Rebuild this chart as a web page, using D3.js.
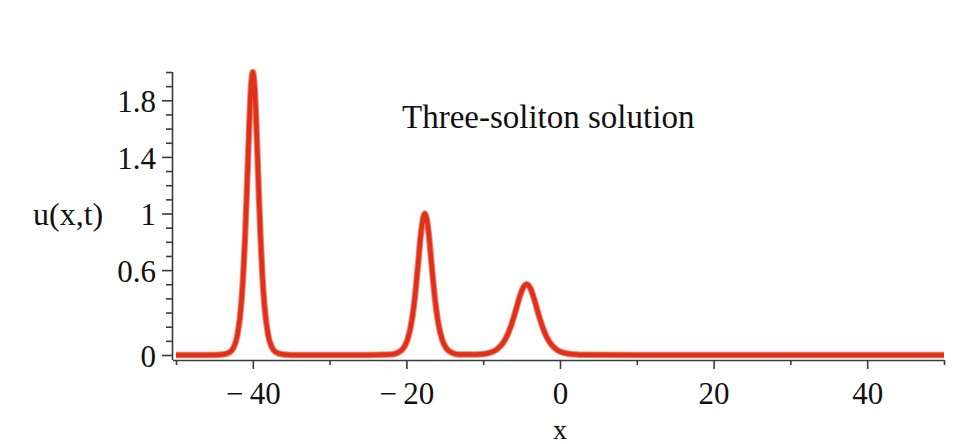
<!DOCTYPE html>
<html>
<head>
<meta charset="utf-8">
<script src="https://cdn.jsdelivr.net/npm/d3@7"></script>
<style>
  html, body { margin: 0; padding: 0; background: #ffffff; }
  svg { display: block; }
  text { font-family: "Liberation Serif", "DejaVu Serif", serif; fill: #111; }
</style>
</head>
<body>
<svg id="chart" width="968" height="444"></svg>
<script>
// ---- data ----
const xValues = [-50, -45, -44, -43, -42.5, -42, -41.5, -41.25, -41, -40.75, -40.5, -40.25, -40,
  -39.75, -39.5, -39.25, -39, -38.75, -38.5, -38, -37.5, -37, -36, -35, -30, -25,
  -22.1, -21.2, -20.3, -19.85, -19.4, -18.95, -18.5, -18.05, -17.6, -17.15, -16.7, -16.25,
  -15.8, -15.35, -14.9, -14.0, -13.1, -11,
  -10.35, -9.35, -8.35, -7.35, -6.85, -6.35, -5.85, -5.35, -4.85, -4.35, -3.85, -3.35,
  -2.85, -2.35, -1.85, -1.35, -0.35, 0.65, 1.65, 3.65, 10, 20, 30, 40, 50];
const uValues = [0, 0.0002, 0.003, 0.020, 0.053, 0.141, 0.361, 0.561, 0.84, 1.193, 1.573, 1.88, 2.0,
  1.88, 1.573, 1.193, 0.84, 0.561, 0.361, 0.141, 0.053, 0.020, 0.003, 0.0002, 0, 0.0001,
  0.003, 0.014, 0.056, 0.110, 0.211, 0.381, 0.629, 0.885, 1.0, 0.885, 0.629, 0.381,
  0.211, 0.110, 0.056, 0.014, 0.003, 0.003,
  0.005, 0.013, 0.035, 0.090, 0.140, 0.21, 0.298, 0.393, 0.47, 0.5, 0.47, 0.393,
  0.298, 0.21, 0.140, 0.090, 0.035, 0.013, 0.005, 0.001, 0, 0, 0, 0, 0];
const xTickLabels = [-40, -20, 0, 20, 40];
const xMinorTicks = [-50, -30, -10, 10, 30, 50];
const yTickLabels = [0, 0.6, 1, 1.4, 1.8];
const yMinorTicks = d3.range(0, 21).map(i => i / 10);
const titleText = "Three-soliton solution";
const xLabel = "x";
const yLabel = "u(x,t)";

// ---- layout ----
const svg = d3.select("#chart");
const x = d3.scaleLinear().domain([-50, 50]).range([176, 944]);
const y = d3.scaleLinear().domain([0, 2]).range([355, 72]);
const xAxisY = 360;
const yAxisX = 172;
const axisColor = "#3a3a3a";
const fmtMinus = d => (d < 0 ? "\u2212\u2009" + Math.abs(d) : String(d));

// x axis
const xAxisMajor = d3.axisBottom(x).tickValues(xTickLabels).tickSize(9).tickPadding(16)
  .tickFormat(fmtMinus);
const gx = svg.append("g").attr("transform", `translate(0,${xAxisY})`).call(xAxisMajor);
gx.select(".domain").attr("d", `M173,0.5H944`).attr("stroke", axisColor).attr("stroke-width", 1.6);
gx.selectAll(".tick line").attr("stroke", axisColor).attr("stroke-width", 1.6);
gx.selectAll(".tick text").attr("font-size", 31).attr("fill", "#111").attr("dy", "0.62em")
  .style("font-family", "'Liberation Serif', serif");
const gxMinor = svg.append("g").attr("transform", `translate(0,${xAxisY})`)
  .call(d3.axisBottom(x).tickValues(xMinorTicks).tickSize(5).tickFormat(""));
gxMinor.select(".domain").remove();
gxMinor.selectAll(".tick line").attr("stroke", axisColor).attr("stroke-width", 1.6);

// y axis
const yAxisMajor = d3.axisLeft(y).tickValues(yTickLabels).tickSize(10).tickPadding(6)
  .tickFormat(d => String(d));
const gy = svg.append("g").attr("transform", `translate(${yAxisX},0)`).call(yAxisMajor);
gy.select(".domain").attr("d", `M0.5,72V360`).attr("stroke", axisColor).attr("stroke-width", 1.6);
gy.selectAll(".tick line").attr("stroke", axisColor).attr("stroke-width", 1.6);
gy.selectAll(".tick text").attr("font-size", 31).attr("fill", "#111").attr("dy", "0.36em")
  .style("font-family", "'Liberation Serif', serif");
const gyMinor = svg.append("g").attr("transform", `translate(${yAxisX},0)`)
  .call(d3.axisLeft(y).tickValues(yMinorTicks.filter(v => !yTickLabels.includes(v))).tickSize(6).tickFormat(""));
gyMinor.select(".domain").remove();
gyMinor.selectAll(".tick line").attr("stroke", axisColor).attr("stroke-width", 1.6);

// curve
const pts = xValues.map((xv, i) => [xv, uValues[i]]);
const line = d3.line().x(d => x(d[0])).y(d => y(d[1])).curve(d3.curveMonotoneX);
svg.append("path").datum(pts).attr("d", line).attr("fill", "none")
  .attr("stroke", "#f0836e").attr("stroke-width", 6.5).attr("stroke-linejoin", "round");
svg.append("path").datum(pts).attr("d", line).attr("fill", "none")
  .attr("stroke", "#e0301c").attr("stroke-width", 4.5).attr("stroke-linejoin", "round");

// labels
svg.append("text").attr("x", 402).attr("y", 128).attr("font-size", 33).text(titleText);
svg.append("text").attr("x", x(0)).attr("y", 439).attr("text-anchor", "middle").attr("font-size", 28).text(xLabel);
svg.append("text").attr("x", 33).attr("y", 225).attr("font-size", 32).text(yLabel);
</script>
</body>
</html>
